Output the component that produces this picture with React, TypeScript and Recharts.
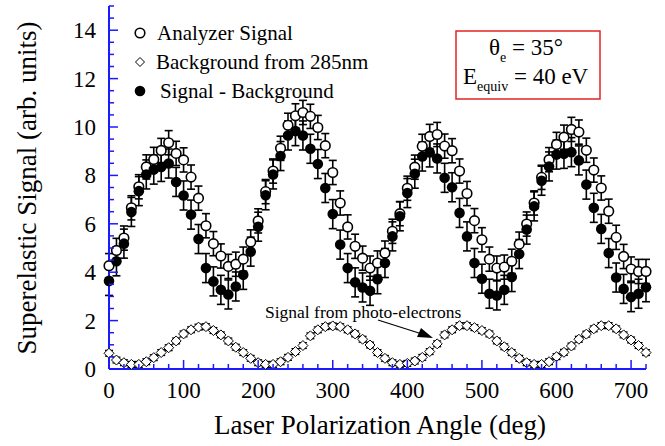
import React from 'react';
import { ScatterChart, Scatter, XAxis, YAxis, ErrorBar } from 'recharts';

// polarization angle (deg), every 10 deg
const angles = [
  0, 10, 20, 30, 40, 50, 60, 70, 80, 90, 100, 110, 120, 130, 140, 150, 160, 170, 180,
  190, 200, 210, 220, 230, 240, 250, 260, 270, 280, 290, 300, 310, 320, 330, 340, 350, 360,
  370, 380, 390, 400, 410, 420, 430, 440, 450, 460, 470, 480, 490, 500, 510, 520, 530, 540,
  550, 560, 570, 580, 590, 600, 610, 620, 630, 640, 650, 660, 670, 680, 690, 700, 710, 720,
];

const analyzerSignal = [
  4.27, 4.9, 5.41, 6.66, 7.53, 8.35, 8.66, 9.03, 9.35, 8.91, 8.64, 7.93, 7.06, 5.92, 5.18, 4.67, 4.24, 4.33, 4.54,
  5.25, 6.12, 7.33, 8.18, 9.12, 10.07, 10.46, 10.6, 10.44, 9.98, 9.23, 8.12, 6.86, 5.87, 5.07, 4.58, 4.17, 4.38,
  4.79, 5.69, 6.42, 7.47, 8.34, 9.2, 9.61, 9.69, 9.21, 9.02, 8.18, 7.25, 6.13, 5.34, 4.54, 4.17, 4.21, 4.45,
  5.16, 5.99, 6.86, 7.92, 8.65, 9.28, 9.58, 9.9, 9.79, 9.04, 8.22, 7.48, 6.52, 5.44, 4.65, 4.13, 4.03, 4.03,
];

const background285 = [
  0.65, 0.37, 0.26, 0.19, 0.19, 0.3, 0.47, 0.68, 0.88, 1.16, 1.45, 1.62, 1.73, 1.75, 1.59, 1.41, 1.16, 0.9, 0.68,
  0.44, 0.26, 0.19, 0.19, 0.3, 0.48, 0.72, 0.97, 1.37, 1.62, 1.75, 1.78, 1.75, 1.62, 1.45, 1.23, 0.99, 0.68,
  0.44, 0.26, 0.19, 0.23, 0.33, 0.48, 0.72, 1.04, 1.41, 1.62, 1.79, 1.79, 1.71, 1.59, 1.45, 1.16, 0.92, 0.68,
  0.44, 0.26, 0.19, 0.19, 0.3, 0.51, 0.69, 0.95, 1.23, 1.44, 1.66, 1.79, 1.79, 1.66, 1.41, 1.2, 0.97, 0.68,
];

const signalMinusBg = [
  3.64, 4.45, 5.18, 6.49, 7.35, 8.04, 8.24, 8.35, 8.49, 7.73, 7.17, 6.38, 5.37, 4.17, 3.62, 3.27, 3.08, 3.41, 3.89,
  4.85, 5.88, 7.18, 8.04, 8.8, 9.65, 9.83, 9.65, 9.1, 8.47, 7.48, 6.4, 5.14, 4.17, 3.58, 3.37, 3.23, 3.71,
  4.38, 5.48, 6.31, 7.27, 8.07, 8.78, 8.95, 8.7, 7.9, 7.51, 6.45, 5.48, 4.38, 3.73, 3.11, 3.04, 3.27, 3.8,
  4.75, 5.76, 6.72, 7.78, 8.37, 8.86, 8.89, 8.96, 8.62, 7.62, 6.66, 5.79, 4.79, 3.78, 3.31, 2.97, 3.11, 3.38,
];

// error bar half-heights
const analyzerErr = 0.5;
const backgroundErr = 0.12;
const diffErr = 0.6;

const xTicks = [
  0, 20, 40, 60, 80, 100, 120, 140, 160, 180, 200, 220, 240, 260, 280, 300, 320, 340, 360,
  380, 400, 420, 440, 460, 480, 500, 520, 540, 560, 580, 600, 620, 640, 660, 680, 700, 720,
];
const xLabels = [0, 100, 200, 300, 400, 500, 600, 700];
const yTicks = [
  0, 0.5, 1, 1.5, 2, 2.5, 3, 3.5, 4, 4.5, 5, 5.5, 6, 6.5, 7, 7.5, 8, 8.5, 9, 9.5, 10,
  10.5, 11, 11.5, 12, 12.5, 13, 13.5, 14, 14.5, 15,
];
const yLabels = [0, 2, 4, 6, 8, 10, 12, 14];

const toRows = (vals: number[], err: number) =>
  angles.map((a, i) => ({ x: a, y: vals[i], err }));

const analyzerRows = toRows(analyzerSignal, analyzerErr);
const backgroundRows = toRows(background285, backgroundErr);
const diffRows = toRows(signalMinusBg, diffErr);

const AXIS = '#1a1aff';
const FONT = "'Liberation Serif', Tinos, 'Times New Roman', 'DejaVu Serif', serif";
const serif = { fontFamily: FONT };

const isMajorX = (v: number) => xLabels.includes(v);
const isMajorY = (v: number) => yLabels.includes(v);

const BottomTick = ({ x, y, payload }: any) => {
  const v = payload.value;
  const major = isMajorX(v);
  return (
    <g>
      <line x1={x} x2={x} y1={y} y2={y - (major ? 9 : 5)} stroke={AXIS} strokeWidth={1.5} />
      {major && (
        <text x={x} y={y + 29} textAnchor="middle" fontSize={23} style={serif} fill="#000">
          {v}
        </text>
      )}
    </g>
  );
};

const TopTick = ({ x, y, payload }: any) => {
  const major = isMajorX(payload.value);
  return <line x1={x} x2={x} y1={y} y2={y + (major ? 9 : 5)} stroke={AXIS} strokeWidth={1.5} />;
};

const LeftTick = ({ x, y, payload }: any) => {
  const v = payload.value;
  const major = isMajorY(v);
  return (
    <g>
      <line x1={x} x2={x + (major ? 9 : 5)} y1={y} y2={y} stroke={AXIS} strokeWidth={1.5} />
      {major && (
        <text x={x - 13} y={y + 8} textAnchor="end" fontSize={23} style={serif} fill="#000">
          {v}
        </text>
      )}
    </g>
  );
};

const RightTick = ({ x, y, payload }: any) => {
  const major = isMajorY(payload.value);
  return <line x1={x} x2={x - (major ? 9 : 5)} y1={y} y2={y} stroke={AXIS} strokeWidth={1.5} />;
};

const OpenCircle = ({ cx, cy }: any) => (
  <circle cx={cx} cy={cy} r={4.8} fill="#fff" stroke="#000" strokeWidth={1.6} />
);
const FilledCircle = ({ cx, cy }: any) => <circle cx={cx} cy={cy} r={5.3} fill="#000" />;
const Diamond = ({ cx, cy }: any) => (
  <path
    d={`M${cx},${cy - 5}L${cx + 5},${cy}L${cx},${cy + 5}L${cx - 5},${cy}Z`}
    fill="#fff"
    stroke="#000"
    strokeWidth={1}
  />
);

const App = () => {
  return (
    <div style={{ position: 'absolute', left: 0, top: 0, width: 665, height: 446, background: '#fff', fontFamily: FONT }}>
      <ScatterChart width={665} height={446} margin={{ top: 6, right: 19, bottom: 0, left: 0 }}>
        <XAxis
          xAxisId="bottom"
          dataKey="x"
          type="number"
          domain={[0, 720]}
          ticks={xTicks}
          interval={0}
          tickSize={0}
          tickMargin={0}
          height={77}
          axisLine={{ stroke: AXIS, strokeWidth: 2 }}
          tick={<BottomTick />}
        />
        <XAxis
          xAxisId="top"
          orientation="top"
          dataKey="x"
          type="number"
          domain={[0, 720]}
          ticks={xTicks}
          interval={0}
          tickSize={0}
          tickMargin={0}
          height={0}
          axisLine={{ stroke: AXIS, strokeWidth: 2 }}
          tick={<TopTick />}
        />
        <YAxis
          yAxisId="left"
          dataKey="y"
          type="number"
          domain={[0, 15]}
          ticks={yTicks}
          interval={0}
          tickSize={0}
          tickMargin={0}
          width={109}
          axisLine={{ stroke: AXIS, strokeWidth: 2 }}
          tick={<LeftTick />}
        />
        <YAxis
          yAxisId="right"
          orientation="right"
          dataKey="y"
          type="number"
          domain={[0, 15]}
          ticks={yTicks}
          interval={0}
          tickSize={0}
          tickMargin={0}
          width={0}
          axisLine={{ stroke: AXIS, strokeWidth: 2 }}
          tick={<RightTick />}
        />
        <Scatter
          name="Background from 285nm"
          data={backgroundRows}
          xAxisId="bottom"
          yAxisId="left"
          shape={<Diamond />}
          isAnimationActive={false}
        >
          <ErrorBar dataKey="err" direction="y" width={4} stroke="#000" strokeWidth={1.3} />
        </Scatter>
        <Scatter
          name="Analyzer Signal"
          data={analyzerRows}
          xAxisId="bottom"
          yAxisId="left"
          shape={<OpenCircle />}
          isAnimationActive={false}
        >
          <ErrorBar dataKey="err" direction="y" width={4} stroke="#000" strokeWidth={1.6} />
        </Scatter>
        <Scatter
          name="Signal - Background"
          data={diffRows}
          xAxisId="bottom"
          yAxisId="left"
          shape={<FilledCircle />}
          isAnimationActive={false}
        >
          <ErrorBar dataKey="err" direction="y" width={4} stroke="#000" strokeWidth={1.6} />
        </Scatter>
      </ScatterChart>

      <svg
        width={665}
        height={446}
        style={{ position: 'absolute', left: 0, top: 0, pointerEvents: 'none', fontFamily: FONT }}
      >
        {/* legend */}
        <circle cx={140} cy={33} r={4.8} fill="#fff" stroke="#000" strokeWidth={1.6} />
        <text x={157} y={40} fontSize={21} style={serif}>Analyzer Signal</text>
        <path d="M140,57.5L144.5,62L140,66.5L135.5,62Z" fill="#fff" stroke="#000" strokeWidth={1} />
        <text x={156} y={69} fontSize={21} style={serif}>Background from 285nm</text>
        <circle cx={140} cy={91} r={5.3} fill="#000" />
        <text x={160} y={98} fontSize={21} style={serif}>Signal - Background</text>

        {/* parameter box */}
        <rect x={456} y={31} width={144} height={68} fill="#fff" stroke="#e32222" strokeWidth={1.5} />
        <text x={489} y={55} fontSize={23} style={serif}>
          θ<tspan fontSize={14} dy={7}>e</tspan>
          <tspan dy={-7}> = 35°</tspan>
        </text>
        <text x={463} y={84} fontSize={23} style={serif}>
          E<tspan fontSize={14} dy={7}>equiv</tspan>
          <tspan dy={-7}> = 40 eV</tspan>
        </text>

        {/* photo-electron annotation */}
        <text x={265} y={318} fontSize={17.5} style={serif}>Signal from photo-electrons</text>
        <line x1={378} y1={320} x2={422} y2={334} stroke="#000" strokeWidth={1.2} />
        <path d="M433,338L417,337L421,328Z" fill="#000" />

        {/* axis titles */}
        <text x={380} y={434} fontSize={27} textAnchor="middle" style={serif}>
          Laser Polarization Angle (deg)
        </text>
        <text x={36} y={188} fontSize={27} textAnchor="middle" transform="rotate(-90 36 188)" style={serif}>
          Superelastic Signal (arb. units)
        </text>
      </svg>
    </div>
  );
};

export default App;
